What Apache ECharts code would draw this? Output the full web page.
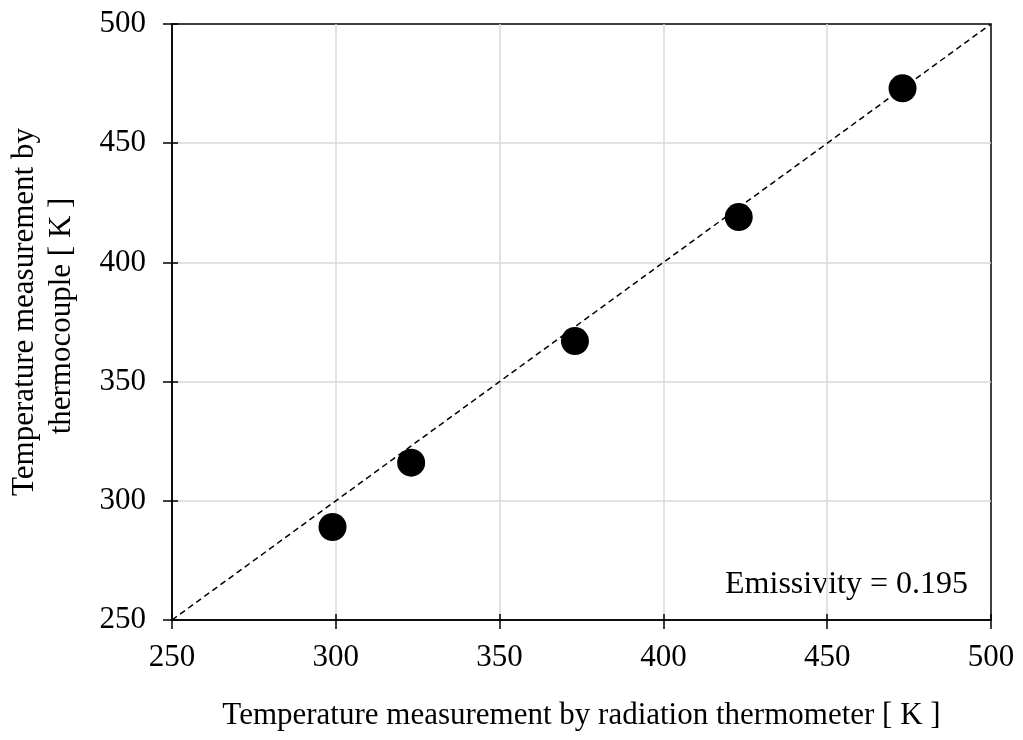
<!DOCTYPE html>
<html>
<head>
<meta charset="utf-8">
<script src="https://cdn.jsdelivr.net/npm/echarts@6/dist/echarts.min.js"></script>
<style>html,body{margin:0;padding:0;background:#fff;}#c{width:1023px;height:740px;}</style>
</head>
<body>
<div id="c"></div>
<script>
const radiationK = [299, 323, 373, 423, 473];
const thermocoupleK = [289, 316, 367, 419, 473];
const refLine = [[250, 250], [500, 500]];
const xTitle = 'Temperature measurement by radiation thermometer [ K ]';
const yTitleLines = ['Temperature measurement by', 'thermocouple [ K ]'];
const note = 'Emissivity = 0.195';

const font = '"Liberation Serif", "Times New Roman", serif';
const fs = 31;
const chart = echarts.init(document.getElementById('c'));
const tickStyle = { color: '#000', width: 1.5 };
chart.setOption({
  animation: false,
  backgroundColor: '#fff',
  grid: { left: 172, right: 32, top: 24, bottom: 120, show: true, borderColor: '#000', borderWidth: 1.5, backgroundColor: 'transparent' },
  xAxis: [{
    type: 'value', min: 250, max: 500, interval: 50, position: 'bottom',
    name: xTitle, nameLocation: 'middle', nameGap: 80,
    nameTextStyle: { fontFamily: font, fontSize: fs, color: '#000' },
    axisLine: { lineStyle: { color: '#000', width: 1.5 } },
    axisTick: { show: true, length: 9, lineStyle: tickStyle },
    axisLabel: { fontFamily: font, fontSize: fs, color: '#000', margin: 22 },
    splitLine: { show: true, showMinLine: false, showMaxLine: false, lineStyle: { color: '#d9d9d9', width: 1.5 } }
  }, {
    type: 'value', min: 250, max: 500, interval: 50, position: 'bottom', offset: 0,
    axisLine: { show: false },
    axisTick: { show: true, inside: true, length: 6, lineStyle: tickStyle },
    axisLabel: { show: false }, splitLine: { show: false }
  }],
  yAxis: [{
    type: 'value', min: 250, max: 500, interval: 50, position: 'left',
    axisLine: { show: true, lineStyle: { color: '#000', width: 1.5 } },
    axisTick: { show: true, length: 9, lineStyle: tickStyle },
    axisLabel: { fontFamily: font, fontSize: fs, color: '#000', margin: 26 },
    splitLine: { show: true, showMinLine: false, showMaxLine: false, lineStyle: { color: '#d9d9d9', width: 1.5 } }
  }, {
    type: 'value', min: 250, max: 500, interval: 50, position: 'left', offset: 0,
    axisLine: { show: false },
    axisTick: { show: true, inside: true, length: 6, lineStyle: tickStyle },
    axisLabel: { show: false }, splitLine: { show: false }
  }],
  graphic: [
    {
      type: 'text', x: 25, y: 312, rotation: Math.PI / 2, originX: 0, originY: 0,
      style: { text: yTitleLines[0], fontFamily: font, fontSize: fs, fill: '#000', align: 'center', verticalAlign: 'middle' }
    },
    {
      type: 'text', x: 62, y: 316, rotation: Math.PI / 2, originX: 0, originY: 0,
      style: { text: yTitleLines[1], fontFamily: font, fontSize: fs, fill: '#000', align: 'center', verticalAlign: 'middle' }
    },
    {
      type: 'text', right: 55, top: 569,
      style: { text: note, fontFamily: font, fontSize: 32, fill: '#000' }
    }
  ],
  series: [
    {
      type: 'line', data: refLine, symbol: 'none', silent: true, xAxisIndex: 0, yAxisIndex: 0,
      lineStyle: { color: '#000', width: 1.5, type: [6, 4] }, z: 3
    },
    {
      type: 'scatter', data: radiationK.map((x, i) => [x, thermocoupleK[i]]), xAxisIndex: 0, yAxisIndex: 0,
      symbol: 'circle', symbolSize: 28, itemStyle: { color: '#000', opacity: 1 }, z: 4
    }
  ]
});
</script>
</body>
</html>
